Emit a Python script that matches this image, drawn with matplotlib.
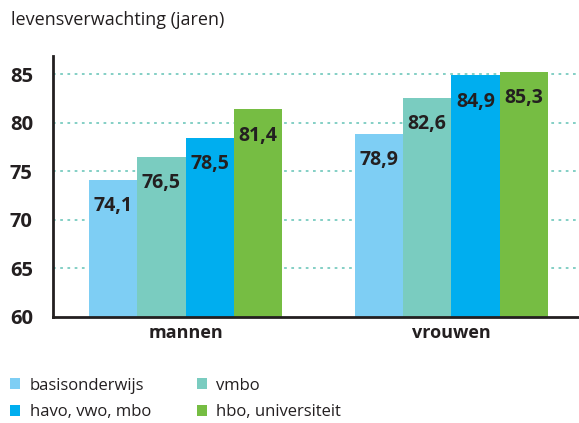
import matplotlib.pyplot as plt
import numpy as np
from matplotlib.patches import Patch

# data
groups = ["mannen", "vrouwen"]
levels = ["basisonderwijs", "vmbo", "havo, vwo, mbo", "hbo, universiteit"]
values = {
    "basisonderwijs": [74.1, 78.9],
    "vmbo": [76.5, 82.6],
    "havo, vwo, mbo": [78.5, 84.9],
    "hbo, universiteit": [81.4, 85.3],
}
colors = ["#7ecef4", "#7accc0", "#00aeef", "#76bd43"]
yticks = [60, 65, 70, 75, 80, 85]

plt.rcParams["font.family"] = ["Open Sans", "DejaVu Sans"]
text_color = "#231f20"

fig = plt.figure(figsize=(5.79, 4.23), dpi=100)
ax = fig.add_axes([0.0915, 0.2506, 0.9085, 0.617])

width = 0.1817
x = np.arange(len(groups))
for i, lev in enumerate(levels):
    pos = x + (i - 1.5) * width
    ax.bar(pos, values[lev], width=width, bottom=0, color=colors[i], zorder=3)
    for xp, v in zip(pos, values[lev]):
        ax.text(xp, v - 2.45, f"{v:.1f}".replace(".", ","), ha="center",
                va="center_baseline", fontsize=14, fontweight="bold",
                color=text_color, zorder=4)

ax.set_ylim(60, 86.9)
ax.set_xlim(-0.499, 1.480)
ax.set_yticks(yticks)
ax.set_yticklabels([str(t) for t in yticks], fontsize=14.5, fontweight="bold",
                   color=text_color)
ax.set_xticks(x)
ax.set_xticklabels(groups, fontsize=13, fontweight="bold", color=text_color)
ax.tick_params(axis="both", length=0)
ax.tick_params(axis="y", pad=31)
ax.tick_params(axis="x", pad=5)
for lab in ax.get_yticklabels():
    lab.set_horizontalalignment("left")

for t in yticks[1:]:
    ax.plot([-0.499, 1.467], [t, t], color="#7accc0",
            linestyle=(0, (1.5, 2.5)), linewidth=1.3, zorder=1)

for s in ["top", "right"]:
    ax.spines[s].set_visible(False)
for s in ["left", "bottom"]:
    ax.spines[s].set_linewidth(2)
    ax.spines[s].set_color(text_color)
    ax.spines[s].set_zorder(5)

fig.text(0.019, 0.952, "levensverwachting (jaren)", fontsize=13,
         color=text_color, va="center", ha="left")

order = [0, 2, 1, 3]
handles = [Patch(facecolor=colors[i], edgecolor="none") for i in order]
labels = [levels[i] for i in order]
fig.legend(handles, labels, loc="upper left", bbox_to_anchor=(0.006, 0.123),
           ncol=2, frameon=False, fontsize=12, handlelength=0.62,
           handleheight=0.62, handletextpad=0.55, columnspacing=2.75,
           labelspacing=0.62, borderaxespad=0, labelcolor=text_color)

fig.savefig("out.png", dpi=100)
